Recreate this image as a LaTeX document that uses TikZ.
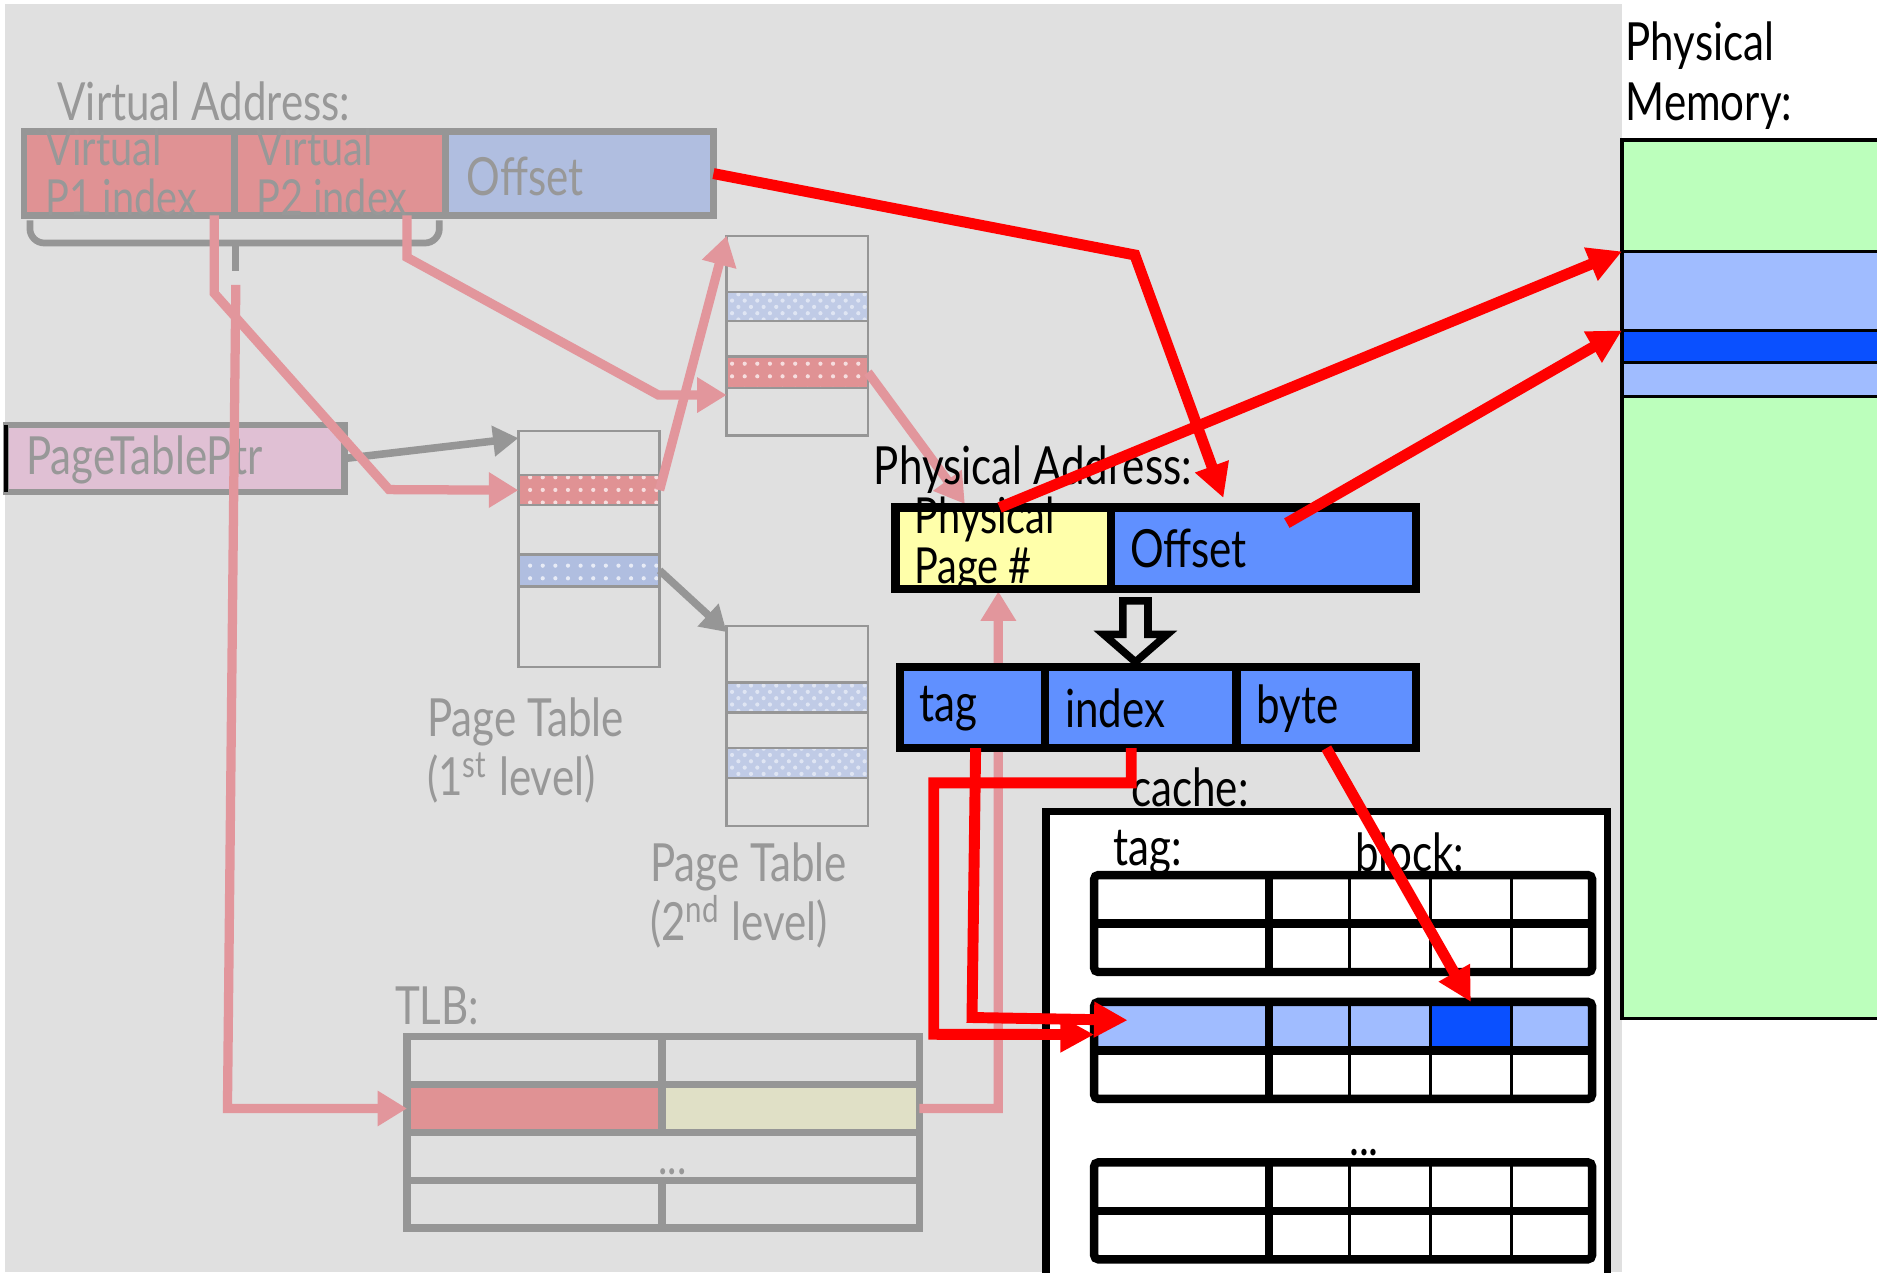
\documentclass[tikz,border=0pt]{standalone}
\usepackage{fontspec}
\setmainfont{Lato}[FakeStretch=0.8]
\usepackage{tikz}
\usetikzlibrary{positioning,arrows,arrows.meta,patterns}

\definecolor{bggray}{RGB}{224,224,224}
\definecolor{boxgray}{RGB}{150,150,150}
\definecolor{txtgray}{RGB}{152,152,152}
\definecolor{vpink}{RGB}{224,146,148}
\definecolor{voffblue}{RGB}{176,190,224}
\definecolor{ptrpink}{RGB}{224,192,212}
\definecolor{tlbbeige}{RGB}{224,224,198}
\definecolor{linkpink}{RGB}{226,150,156}
\definecolor{ppnyellow}{RGB}{255,255,170}
\definecolor{addrblue}{RGB}{96,144,255}
\definecolor{lineblue}{RGB}{160,188,255}
\definecolor{byteblue}{RGB}{10,80,255}
\definecolor{memgreen}{RGB}{188,255,188}
\definecolor{hitred}{RGB}{255,0,0}

\newcommand{\txtsz}{\fontsize{11.8}{11.8}\selectfont}
\newcommand{\labsz}{\fontsize{12.5}{14.2}\selectfont}

\begin{document}
\begin{tikzpicture}[x=1mm,y=-1mm,
		every node/.style={inner sep=0pt,outer sep=0pt},
		cellbox/.style={draw,anchor=north west},
		vcell/.style={cellbox,draw=boxgray,line width=1.6pt,minimum height=7mm},
		ptcell/.style={cellbox,draw=boxgray,line width=0.6pt,minimum width=11.8mm},
		tlbcell/.style={cellbox,draw=boxgray,line width=1.8pt,minimum height=4mm},
		acell/.style={cellbox,line width=2pt,minimum height=6.8mm},
		ccell/.style={cellbox,line width=0.6pt,minimum height=4.05mm},
		memcell/.style={cellbox,line width=0.8pt,minimum width=30mm},
		gtxt/.style={anchor=west,align=left,text=txtgray,font=\txtsz},
		btxt/.style={anchor=west,align=left,font=\txtsz},
		glab/.style={anchor=west,align=left,text=txtgray,font=\labsz},
		blab/.style={anchor=west,align=left,font=\labsz},
		pinkdots/.style={preaction={fill=vpink},pattern=dots,pattern color=white!70!vpink},
		bluedots/.style={preaction={fill=voffblue},pattern=dots,pattern color=white!70!voffblue},
		bluecheck/.style={preaction={fill=voffblue!80!white},pattern=crosshatch dots,pattern color=white!60!voffblue},
		redarrow/.style={draw=hitred,line width=2.6pt,-{Triangle[length=8pt,width=8pt]}},
		pinkarrow/.style={draw=linkpink,line width=2.2pt,-{Triangle[length=7pt,width=8pt]}},
		grayarrow/.style={draw=boxgray,line width=1.8pt,-{Triangle[length=6pt,width=7pt]}}]

	%background
	\useasboundingbox (0,0) rectangle (156.8,106.3);
	\fill[bggray] (0.4,0.3) rectangle (135.5,106.3);

	%physical memory
	\node[blab] (memlbl) at (135.8,6.3) {Physical\\Memory:};
	\node[memcell,fill=memgreen,minimum height=9.3mm] (mem1) at (135.5,11.7) {};
	\node[memcell,fill=lineblue,minimum height=6.6mm,below=0pt of mem1] (mem2) {};
	\node[memcell,fill=byteblue,minimum height=2.7mm,below=0pt of mem2] (mem3) {};
	\node[memcell,fill=lineblue,minimum height=2.8mm,below=0pt of mem3] (mem4) {};
	\node[memcell,fill=memgreen,minimum height=52mm,below=0pt of mem4] (mem5) {};

	%virtual address
	\node[glab] (valbl) at (4.8,8.5) {Virtual Address:};
	\node[vcell,fill=vpink,minimum width=17.6mm] (vp1) at (2.0,11.0) {};
	\node[vcell,fill=vpink,minimum width=17.6mm,right=0pt of vp1] (vp2) {};
	\node[vcell,fill=voffblue,minimum width=22.4mm,right=0pt of vp2] (voff) {};
	\node[gtxt] (vp1t) at (3.8,14.4) {Virtual\\P1 index};
	\node[gtxt] (vp2t) at (21.4,14.4) {Virtual\\P2 index};
	\node[glab] (vofft) at (39.0,14.7) {Offset};

	%brace
	\draw[boxgray,line width=1.6pt,rounded corners=1.2mm] (2.5,18.4) |- (36.7,20.3) -- (36.7,18.4);
	\coordinate (btip) at (19.7,22.6);
	\draw[boxgray,line width=1.6pt] (19.7,20.3) -- (btip);

	%page table pointer
	\node[cellbox,draw=boxgray,line width=1.6pt,fill=ptrpink,minimum width=28.3mm,minimum height=5.6mm] (ptr) at (0.5,35.5) {};
	\draw[black,line width=1pt] (ptr.north west) -- (ptr.south west);
	\node[glab] (ptrt) at (2.2,38.4) {PageTablePtr};

	%page table, 1st level
	\node[ptcell,minimum height=3.7mm] (pt1a) at (43.3,36.0) {};
	\node[ptcell,pinkdots,minimum height=2.5mm,below=0pt of pt1a] (pt1b) {};
	\node[ptcell,minimum height=4.1mm,below=0pt of pt1b] (pt1c) {};
	\node[ptcell,bluedots,minimum height=2.7mm,below=0pt of pt1c] (pt1d) {};
	\node[ptcell,minimum height=6.7mm,below=0pt of pt1d] (pt1e) {};
	\node[glab] (pt1lbl) at (35.7,62.7) {Page Table\\(1\textsuperscript{st} level)};

	%page tables, 2nd level
	\node[ptcell,minimum height=4.7mm] (pt2a) at (60.7,19.7) {};
	\node[ptcell,bluecheck,minimum height=2.4mm,below=0pt of pt2a] (pt2b) {};
	\node[ptcell,minimum height=3.0mm,below=0pt of pt2b] (pt2c) {};
	\node[ptcell,pinkdots,minimum height=2.6mm,below=0pt of pt2c] (pt2d) {};
	\node[ptcell,minimum height=4.0mm,below=0pt of pt2d] (pt2e) {};

	\node[ptcell,minimum height=4.7mm] (pt3a) at (60.7,52.3) {};
	\node[ptcell,bluecheck,minimum height=2.5mm,below=0pt of pt3a] (pt3b) {};
	\node[ptcell,minimum height=3.0mm,below=0pt of pt3b] (pt3c) {};
	\node[ptcell,bluecheck,minimum height=2.5mm,below=0pt of pt3c] (pt3d) {};
	\node[ptcell,minimum height=4.0mm,below=0pt of pt3d] (pt3e) {};
	\node[glab] (pt2lbl) at (54.3,74.8) {Page Table\\(2\textsuperscript{nd} level)};

	%gray edges
	\draw[grayarrow] (ptr.east) -- ([yshift=-0.6mm]pt1a.north west);
	\draw[grayarrow] (pt1d.east) -- ([yshift=-0.5mm]pt3a.north west);

	%tlb
	\node[glab] (tlblbl) at (33.0,84.0) {TLB:};
	\node[tlbcell,minimum width=21.3mm] (tlb11) at (34.0,86.6) {};
	\node[tlbcell,minimum width=21.5mm,right=0pt of tlb11] (tlb12) {};
	\node[tlbcell,fill=vpink,minimum width=21.3mm] (tlb21) at (tlb11.south west) {};
	\node[tlbcell,fill=tlbbeige,minimum width=21.5mm,right=0pt of tlb21] (tlb22) {};
	\node[tlbcell,minimum width=42.8mm] (tlb3) at (tlb21.south west) {};
	\node[tlbcell,minimum width=21.3mm] (tlb41) at (tlb3.south west) {};
	\node[tlbcell,minimum width=21.5mm,right=0pt of tlb41] (tlb42) {};
	\node[gtxt] (tlbdots) at (55.0,97.9) {...};

	%pink edges
	\draw[pinkarrow] ([xshift=15.9mm]vp1.south west) -- (17.9,24.5) -- (32.5,40.9) -- (pt1b.west);
	\draw[pinkarrow] ([xshift=14.4mm]vp2.south west) -- (34.0,21.5) -- (55.0,33.0) -- ([yshift=-0.6mm]pt2d.south west);
	\draw[pinkarrow] ([yshift=-1.2mm]btip) -- (19.0,92.6) -- (tlb21.west);
	\draw[pinkarrow] (pt1b.east) -- (pt2a.north west);
	\draw[pinkarrow] (pt2d.east) -- ([xshift=5.8mm,yshift=0.3mm]74.8,42.4);
	\draw[pinkarrow] (tlb22.east) -- (83.4,92.6) -- (83.4,49.4);

	%physical address
	\node[blab] (palbl) at (73.0,39.2) {Physical Address:};
	\node[acell,fill=ppnyellow,minimum width=18.0mm] (ppn) at (74.8,42.4) {};
	\node[acell,fill=addrblue,minimum width=25.5mm,right=0pt of ppn] (poff) {};
	\node[btxt] (ppnt) at (76.4,45.5) {Physical\\Page \#};
	\node[blab] (pofft) at (94.4,45.8) {Offset};

	%split
	\draw[black,line width=1.8pt,fill=bggray] (93.8,50.2) -- (95.9,50.2) -- (95.9,53.0) -- (97.5,53.0)
		-- (94.85,55.3) -- (92.2,53.0) -- (93.8,53.0) -- cycle;
	\node[acell,fill=addrblue,minimum width=12.1mm] (atag) at (75.2,55.7) {};
	\node[acell,fill=addrblue,minimum width=16.0mm,right=0pt of atag] (aidx) {};
	\node[acell,fill=addrblue,minimum width=15.0mm,right=0pt of aidx] (abyte) {};
	\node[blab] (atagt) at (76.8,59.2) {tag};
	\node[blab] (aidxt) at (89.0,59.2) {index};
	\node[blab] (abytet) at (105.0,59.2) {byte};

	%cache
	\node[blab] (cachelbl) at (94.5,65.8) {cache:};
	\node[cellbox,fill=white,line width=1.8pt,minimum width=46.9mm,minimum height=42mm] (cache) at (87.4,67.8) {};
	\node[blab] (ctaglbl) at (93.0,71.2) {tag:};
	\node[blab] (cblklbl) at (113.2,71.2) {block:};
	\foreach \s/\y in {1/73.1,2/83.7,3/97.1}{
		\foreach \r in {1,2}{
			\ifnum\s\r=21 \def\rowcol{lineblue}\else\def\rowcol{white}\fi
			\node[ccell,fill=\rowcol,minimum width=14.6mm] (ct\s\r) at (91.4,{\y+4.05*(\r-1)}) {};
			\foreach \c in {1,...,4}{
				\ifnum\s\r\c=213 \def\blkcol{byteblue}\else\let\blkcol\rowcol\fi
				\node[ccell,fill=\blkcol,minimum width=6.75mm] (cb\s\r\c) at ({106.0+6.75*(\c-1)},{\y+4.05*(\r-1)}) {};
			}
		}
		\draw[line width=2pt,rounded corners=1pt] (ct\s1.north west) rectangle (cb\s24.south east);
		\draw[line width=2pt] (ct\s1.south west) -- (cb\s14.south east);
		\draw[line width=2pt] (ct\s1.north east) -- (ct\s2.south east);
	}
	\node[blab] (cdots) at (112.7,96.3) {...};

	%red edges
	\draw[redarrow] (voff.east) -- (94.8,21.3) -- ([xshift=9.4mm,yshift=0.8mm]poff.north west);
	\draw[redarrow] ([xshift=8.7mm]ppn.north west) -- (mem2.north west);
	\draw[redarrow] ([xshift=14.7mm,yshift=-1.3mm]poff.north west) -- (mem3.north west);
	\draw[redarrow] ([xshift=6.3mm]atag.south west) -- (81.2,85.0) -- ([xshift=2.8mm,yshift=0.5mm]ct21.west);
	\draw[redarrow] ([xshift=7.2mm]aidx.south west) -- (94.5,65.4) -- (78.0,65.4) -- (78.0,86.4) -- ([yshift=-0.7mm]ct21.west);
	\draw[redarrow] ([xshift=7.5mm]abyte.south west) -- (cb213.north);
\end{tikzpicture}
\end{document}
